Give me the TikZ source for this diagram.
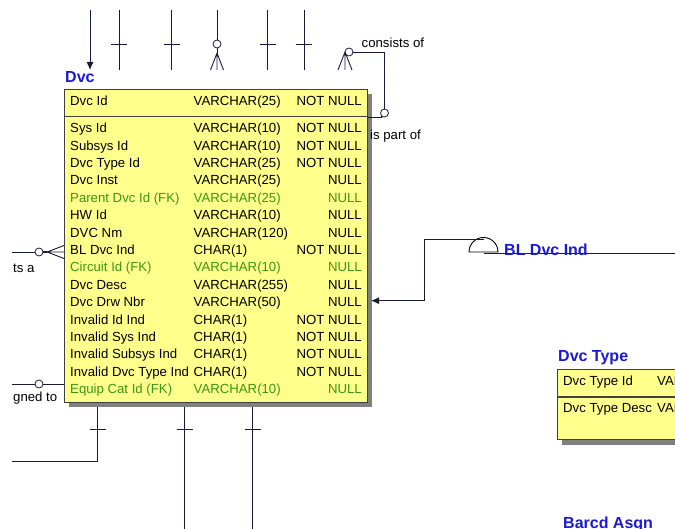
\documentclass[tikz,border=0pt]{standalone}
\usepackage{fontspec}
\setmainfont{Liberation Sans}
\usepackage{xcolor}
\usetikzlibrary{arrows.meta}
\definecolor{erfill}{RGB}{255,255,140}
\definecolor{ertitle}{RGB}{25,25,215}
\definecolor{fkgreen}{RGB}{60,150,20}
\definecolor{erline}{RGB}{25,25,60}
\definecolor{ershadow}{RGB}{128,128,128}
\tikzset{
  tbl/.style={rectangle, draw=black!75, fill=erfill, line width=0.9pt, inner sep=0pt},
  tblshadow/.style={fill=ershadow},
  tname/.style={font=\fontsize{16}{18}\selectfont\bfseries, text=ertitle, anchor=mid west, inner sep=0pt},
  colname/.style={font=\fontsize{13.2}{15}\selectfont, anchor=mid west, inner sep=0pt},
  colnull/.style={colname, anchor=mid east},
  rel/.style={draw=erline, line width=0.9pt},
  optcirc/.style={draw=erline, fill=white, line width=0.8pt},
  rlbl/.style={font=\fontsize{13.2}{15}\selectfont, anchor=mid west, inner sep=0pt},
  relarrow/.style={rel, -{Latex[length=8pt,width=7pt]}},
}

\begin{document}
\begin{tikzpicture}[x=1pt, y=-1pt]
\useasboundingbox (0,0) rectangle (675,529);
\clip (0,0) rectangle (675,529);
% ---- Dvc table ----
\fill[tblshadow] (69,94) rectangle (372,407);
\node[tbl, minimum width=303pt, minimum height=313pt, anchor=north west] (dvc) at (64,89) {};
\draw[draw=black!75, line width=1.2pt] (64,116.5) -- (367,116.5);
\node[tname] (dvct) at (65,79.5) {Dvc};
\node[colname] (kn) at (70,103) {Dvc Id};
\node[colname] (kt) at (193.5,103) {VARCHAR(25)};
\node[colnull] (kk) at (362,103) {NOT NULL};
\foreach \cn/\ct/\cnull/\cc [count=\i from 0] in {
  Sys Id/VARCHAR(10)/NOT NULL/black,
  Subsys Id/VARCHAR(10)/NOT NULL/black,
  Dvc Type Id/VARCHAR(25)/NOT NULL/black,
  Dvc Inst/VARCHAR(25)/NULL/black,
  Parent Dvc Id (FK)/VARCHAR(25)/NULL/fkgreen,
  HW Id/VARCHAR(10)/NULL/black,
  DVC Nm/VARCHAR(120)/NULL/black,
  BL Dvc Ind/CHAR(1)/NOT NULL/black,
  Circuit Id (FK)/VARCHAR(10)/NULL/fkgreen,
  Dvc Desc/VARCHAR(255)/NULL/black,
  Dvc Drw Nbr/VARCHAR(50)/NULL/black,
  Invalid Id Ind/CHAR(1)/NOT NULL/black,
  Invalid Sys Ind/CHAR(1)/NOT NULL/black,
  Invalid Subsys Ind/CHAR(1)/NOT NULL/black,
  Invalid Dvc Type Ind/CHAR(1)/NOT NULL/black,
  Equip Cat Id (FK)/VARCHAR(10)/NULL/fkgreen}
{
  \node[colname, text=\cc] (rn\i) at (70,{130+17.4*\i}) {\cn};
  \node[colname, text=\cc] (rt\i) at (193.5,{130+17.4*\i}) {\ct};
  \node[colnull, text=\cc] (rk\i) at (362,{130+17.4*\i}) {\cnull};
}
% ---- Dvc Type table ----
\fill[tblshadow] (562,374) rectangle (700,445);
\node[tbl, minimum width=140pt, minimum height=70pt, anchor=north west] (dtyp) at (557,369) {};
\draw[draw=black!75, line width=1.2pt] (557,397) -- (697,397);
\node[tname] (dtypt) at (558,359) {Dvc Type};
\node[colname] (dtn1) at (563,383) {Dvc Type Id};
\node[colname] (dtt1) at (657,383) {VARCHAR(25)};
\node[colname] (dtn2) at (563,410) {Dvc Type Desc};
\node[colname] (dtt2) at (657,410) {VARCHAR(255)};
% ---- Barcd Asgn table (title only) ----
\node[tname] (bat) at (563,526) {Barcd Asgn};
% ---- top connectors ----
\coordinate (ta) at (90,10);
\coordinate (tae) at (90,70);
\draw[relarrow] (ta) -- (tae);
\foreach \tx [count=\j] in {119,171.5,267.5,304} {
  \coordinate (tb\j) at (\tx,10);
  \coordinate (te\j) at (\tx,70);
  \draw[rel] (tb\j) -- (te\j);
  \draw[rel] (\tx-8,44) -- (\tx+8,44);
}
% optional many
\coordinate (tc) at (217,10);
\node[optcirc, circle, minimum size=8pt, inner sep=0pt] (tco) at (217,44) {};
\draw[rel] (tc) -- (tco.north);
\draw[rel] (tco.south) -- (217,53);
\draw[rel] (217,53) -- (210.5,70) (217,53) -- (217,70) (217,53) -- (223.5,70);
% ---- recursive: consists of / is part of ----
\node[optcirc, circle, minimum size=8pt, inner sep=0pt] (cso) at (349,52) {};
\draw[rel] (345,52) -- (338,70) (345,52) -- (345,70) (345,52) -- (352,70);
\node[optcirc, circle, minimum size=8pt, inner sep=0pt] (ipo) at (384.5,113) {};
\draw[rel] (cso.east) -- (384.5,52) -- (ipo.north);
\draw[rel] (dvc.east |- 0,117.5) -- (382,117.5) -- (ipo.south west);
\node[rlbl] (cslbl) at (361.5,44.5) {consists of};
\node[rlbl] (iplbl) at (370,136.5) {is part of};
% ---- BL Dvc Ind ----
\draw[rel, draw=black] (469,252) arc[start angle=180, end angle=0, radius=14.5pt] -- cycle;
\coordinate (blr) at (675,253);
\draw[rel] (484,253) -- (blr);
\node[tname] (bllbl) at (504,253) {BL Dvc Ind};
\draw[relarrow] (484,239) -- (424.5,239) -- (424.5,300.7) -- (371,300.7);
% ---- left connectors ----
\coordinate (la) at (12,252);
\node[optcirc, circle, minimum size=8pt, inner sep=0pt] (lao) at (39,252) {};
\draw[rel] (la) -- (lao.west);
\draw[rel, line width=1.8pt] (lao.east) -- (47,252);
\draw[rel] (47,252) -- (64,245.5) (47,252) -- (64,252) (47,252) -- (64,258.5);
\node[rlbl] (lalbl) at (13,270) {ts a};
\coordinate (lb) at (12,384);
\node[optcirc, circle, minimum size=8pt, inner sep=0pt] (lbo) at (39,384) {};
\draw[rel] (lb) -- (lbo.west);
\draw[rel] (lbo.east) -- (dvc.west |- 0,384);
\node[rlbl] (lblbl) at (13,398.5) {gned to};
% ---- bottom connectors ----
\coordinate (bl) at (12,461);
\draw[rel] (97.5,407) -- (97.5,461) -- (bl);
\draw[rel] (89.5,429) -- (105.5,429);
\foreach \bx [count=\k] in {184.5,252.5} {
  \coordinate (bb\k) at (\bx,529);
  \draw[rel] (\bx,407) -- (bb\k);
  \draw[rel] (\bx-8,429) -- (\bx+8,429);
}
\end{tikzpicture}
\end{document}
